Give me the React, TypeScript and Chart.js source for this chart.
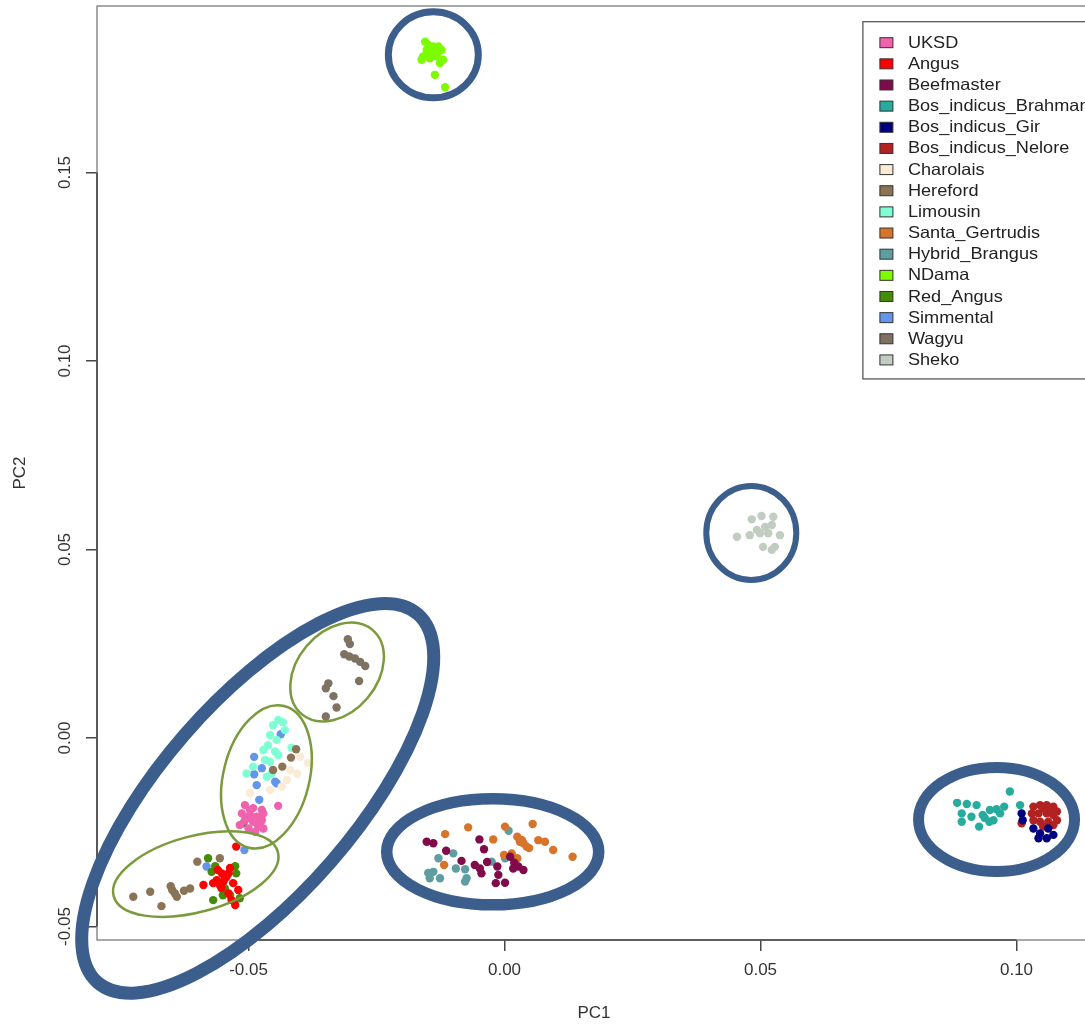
import React, { useEffect, useRef } from "react";
import { Chart, registerables } from "chart.js";

Chart.register(...registerables);

type P = [number, number];

const BREEDS = [
  "UKSD", "Angus", "Beefmaster", "Bos_indicus_Brahman", "Bos_indicus_Gir", "Bos_indicus_Nelore",
  "Charolais", "Hereford", "Limousin", "Santa_Gertrudis", "Hybrid_Brangus", "NDama",
  "Red_Angus", "Simmental", "Wagyu", "Sheko",
];
const COLORS = [
  "#f062ae", "#ff0000", "#800a4a", "#26ab9d", "#000080", "#b22222",
  "#faebd7", "#8b7355", "#7fffd4", "#d8742a", "#5f9ea0", "#7cfc00",
  "#448c0a", "#6495ed", "#7f7262", "#c1cdc1",
];

const X_TICKS = [-0.05, 0, 0.05, 0.1];
const Y_TICKS = [-0.05, 0, 0.05, 0.1, 0.15];

const UKSD: P[] = [[-0.0507,-0.0178],[-0.0491,-0.0186],[-0.0474,-0.0191],[-0.0442,-0.0180],[-0.0513,-0.0200],[-0.0497,-0.0204],[-0.0484,-0.0209],[-0.0471,-0.0200],[-0.0507,-0.0218],[-0.0491,-0.0222],[-0.0474,-0.0218],[-0.0517,-0.0231],[-0.0481,-0.0235],[-0.0471,-0.0240],[-0.0500,-0.0240],[-0.0487,-0.0249],[-0.0497,-0.0191],[-0.0478,-0.0228],[-0.0503,-0.0212]];
const ANGUS: P[] = [[-0.0524,-0.0288],[-0.0552,-0.0359],[-0.0543,-0.0368],[-0.0562,-0.0377],[-0.0549,-0.0381],[-0.0539,-0.0359],[-0.0556,-0.0390],[-0.0588,-0.0390],[-0.0530,-0.0385],[-0.0520,-0.0403],[-0.0539,-0.0412],[-0.0533,-0.0430],[-0.0546,-0.0372],[-0.0569,-0.0385],[-0.0560,-0.0350],[-0.0536,-0.0345],[-0.0526,-0.0443],[-0.0553,-0.0398]];
const BEEFMASTER: P[] = [[-0.0152,-0.0275],[-0.0139,-0.0279],[-0.0114,-0.0299],[-0.0049,-0.0269],[-0.0040,-0.0295],[-0.0084,-0.0326],[-0.0058,-0.0337],[-0.0048,-0.0346],[-0.0045,-0.0359],[-0.0014,-0.0341],[-0.0012,-0.0363],[0.0011,-0.0315],[0.0019,-0.0331],[0.0027,-0.0341],[0.0037,-0.0350],[0.0017,-0.0346],[-0.0017,-0.0385],[0.0001,-0.0384],[-0.0034,-0.0329]];
const BRAHMAN: P[] = [[0.0884,-0.0172],[0.0903,-0.0175],[0.0922,-0.0178],[0.0893,-0.0200],[0.0893,-0.0222],[0.0912,-0.0209],[0.0934,-0.0204],[0.0948,-0.0191],[0.0961,-0.0189],[0.0968,-0.0200],[0.0947,-0.0222],[0.0955,-0.0218],[0.0927,-0.0235],[0.0987,-0.0142],[0.1007,-0.0178],[0.0976,-0.0182],[0.0938,-0.0212]];
const GIR: P[] = [[0.1010,-0.0200],[0.1012,-0.0218],[0.1033,-0.0240],[0.1046,-0.0253],[0.1059,-0.0266],[0.1072,-0.0257],[0.1043,-0.0266],[0.1062,-0.0240]];
const NELORE: P[] = [[0.1033,-0.0182],[0.1046,-0.0178],[0.1059,-0.0178],[0.1072,-0.0182],[0.1079,-0.0195],[0.1030,-0.0200],[0.1043,-0.0200],[0.1059,-0.0200],[0.1072,-0.0204],[0.1079,-0.0218],[0.1033,-0.0218],[0.1046,-0.0222],[0.1062,-0.0222],[0.1072,-0.0231],[0.1052,-0.0235],[0.1010,-0.0226],[0.1052,-0.0186],[0.1065,-0.0191]];
const CHAROLAIS: P[] = [[-0.0405,-0.0095],[-0.0425,-0.0111],[-0.0435,-0.0129],[-0.0458,-0.0138],[-0.0384,-0.0066],[-0.0497,-0.0146],[-0.0399,-0.0050],[-0.0419,-0.0085]];
const HEREFORD: P[] = [[-0.0600,-0.0328],[-0.0556,-0.0319],[-0.0725,-0.0421],[-0.0692,-0.0408],[-0.0670,-0.0446],[-0.0652,-0.0393],[-0.0644,-0.0412],[-0.0640,-0.0421],[-0.0626,-0.0405],[-0.0614,-0.0399],[-0.0649,-0.0403],[-0.0407,-0.0030],[-0.0417,-0.0052],[-0.0434,-0.0076],[-0.0452,-0.0085],[-0.0510,-0.0226]];
const LIMOUSIN: P[] = [[-0.0442,0.0048],[-0.0452,0.0034],[-0.0429,0.0021],[-0.0458,0.0008],[-0.0445,-0.0005],[-0.0416,-0.0026],[-0.0471,-0.0032],[-0.0448,-0.0036],[-0.0442,-0.0045],[-0.0468,-0.0058],[-0.0458,-0.0063],[-0.0491,-0.0076],[-0.0455,-0.0094],[-0.0504,-0.0094],[-0.0464,-0.0103],[-0.0433,0.0042],[-0.0462,-0.0019]];
const SANTA_GERTRUDIS: P[] = [[-0.0116,-0.0255],[-0.0071,-0.0237],[0.0001,-0.0235],[0.0055,-0.0228],[0.0025,-0.0262],[0.0034,-0.0271],[0.0037,-0.0279],[0.0043,-0.0288],[0.0030,-0.0275],[0.0066,-0.0271],[0.0079,-0.0275],[0.0095,-0.0297],[0.0133,-0.0315],[-0.0001,-0.0310],[0.0014,-0.0306],[0.0025,-0.0319],[-0.0118,-0.0337],[-0.0022,-0.0269],[0.0048,-0.0292]];
const HYBRID_BRANGUS: P[] = [[-0.0100,-0.0306],[-0.0129,-0.0319],[0.0008,-0.0246],[-0.0025,-0.0328],[0.0001,-0.0319],[-0.0095,-0.0346],[-0.0077,-0.0348],[-0.0139,-0.0355],[-0.0146,-0.0372],[-0.0126,-0.0372],[-0.0074,-0.0372],[-0.0077,-0.0381],[-0.0149,-0.0358]];
const NDAMA: P[] = [[-0.0155,0.1847],[-0.0149,0.1838],[-0.0139,0.1834],[-0.0129,0.1834],[-0.0123,0.1825],[-0.0159,0.1808],[-0.0146,0.1803],[-0.0132,0.1808],[-0.0120,0.1799],[-0.0126,0.1790],[-0.0146,0.1816],[-0.0136,0.1759],[-0.0116,0.1726],[-0.0162,0.1799],[-0.0152,0.1825],[-0.0139,0.1815],[-0.0130,0.1820]];
const RED_ANGUS: P[] = [[-0.0579,-0.0319],[-0.0565,-0.0340],[-0.0526,-0.0340],[-0.0572,-0.0355],[-0.0524,-0.0359],[-0.0546,-0.0399],[-0.0550,-0.0417],[-0.0569,-0.0430],[-0.0517,-0.0425],[-0.0536,-0.0417]];
const SIMMENTAL: P[] = [[-0.0437,0.0010],[-0.0489,-0.0050],[-0.0474,-0.0080],[-0.0489,-0.0096],[-0.0448,-0.0116],[-0.0445,-0.0120],[-0.0484,-0.0125],[-0.0479,-0.0164],[-0.0508,-0.0297],[-0.0582,-0.0341]];
const WAGYU: P[] = [[-0.0306,0.0262],[-0.0302,0.0249],[-0.0313,0.0222],[-0.0303,0.0216],[-0.0292,0.0211],[-0.0282,0.0202],[-0.0272,0.0191],[-0.0284,0.0151],[-0.0344,0.0145],[-0.0349,0.0132],[-0.0334,0.0111],[-0.0328,0.0081],[-0.0349,0.0057]];
const SHEKO: P[] = [[0.0454,0.0534],[0.0483,0.0580],[0.0502,0.0589],[0.0525,0.0587],[0.0493,0.0552],[0.0509,0.0560],[0.0522,0.0565],[0.0499,0.0543],[0.0515,0.0543],[0.0538,0.0538],[0.0505,0.0507],[0.0528,0.0507],[0.0522,0.0499],[0.0479,0.0538]];

const SERIES: P[][] = [
  UKSD, ANGUS, BEEFMASTER, BRAHMAN, GIR, NELORE, CHAROLAIS, HEREFORD,
  LIMOUSIN, SANTA_GERTRUDIS, HYBRID_BRANGUS, NDAMA, RED_ANGUS, SIMMENTAL, WAGYU, SHEKO,
];

// Hand-drawn annotation ellipses: centre in data units, radii in px
const BLUE = "#3c5e8d";
const GREEN = "#7b9a3c";
const ELLIPSES = [
  { cx: -0.0139, cy: 0.1812, rx: 45, ry: 43, rot: 0, color: BLUE, lw: 7 },
  { cx: 0.0482, cy: 0.0544, rx: 45, ry: 47, rot: 0, color: BLUE, lw: 6 },
  { cx: -0.0023, cy: -0.0302, rx: 106, ry: 53, rot: 0, color: BLUE, lw: 11.5 },
  { cx: 0.0961, cy: -0.0216, rx: 78, ry: 52, rot: 0, color: BLUE, lw: 11 },
  { cx: -0.0482, cy: -0.0160, rx: 244, ry: 97, rot: -49, color: BLUE, lw: 13 },
  { cx: -0.0327, cy: 0.0175, rx: 55, ry: 40, rot: -50, color: GREEN, lw: 2.5 },
  { cx: -0.0465, cy: -0.0103, rx: 73, ry: 43, rot: -76, color: GREEN, lw: 2.5 },
  { cx: -0.0603, cy: -0.0361, rx: 85, ry: 38, rot: -15, color: GREEN, lw: 2.5 },
];

const LEGEND_ANCHOR: P = [0.07, 0.19];
const FONT = "'Liberation Sans', Arial, Helvetica, sans-serif";

const overlay = {
  id: "overlay",
  afterDraw(chart: any) {
    const { ctx, chartArea: a, scales } = chart;
    const xs = scales.x;
    const ys = scales.y;
    ctx.save();

    // plot box
    ctx.strokeStyle = "#8c8c8c";
    ctx.lineWidth = 1.5;
    ctx.strokeRect(a.left, a.top, a.right - a.left, a.bottom - a.top);

    // axis lines between first and last tick
    const xt = xs.ticks;
    const yt = ys.ticks;
    ctx.strokeStyle = "#474747";
    ctx.lineWidth = 1.6;
    ctx.beginPath();
    ctx.moveTo(xs.getPixelForValue(xt[0].value), a.bottom);
    ctx.lineTo(xs.getPixelForValue(xt[xt.length - 1].value), a.bottom);
    ctx.moveTo(a.left, ys.getPixelForValue(yt[0].value));
    ctx.lineTo(a.left, ys.getPixelForValue(yt[yt.length - 1].value));
    ctx.stroke();

    // rotated y tick labels (R style)
    ctx.fillStyle = "#333";
    ctx.font = `17px ${FONT}`;
    ctx.textAlign = "center";
    ctx.textBaseline = "middle";
    for (const t of yt) {
      const py = ys.getPixelForValue(t.value);
      ctx.save();
      ctx.translate(a.left - 32, py);
      ctx.rotate(-Math.PI / 2);
      ctx.fillText(Number(t.value).toFixed(2), 0, 0);
      ctx.restore();
    }

    // legend
    const lx = xs.getPixelForValue(LEGEND_ANCHOR[0]);
    const ly = ys.getPixelForValue(LEGEND_ANCHOR[1]);
    const sx = 1.1;
    ctx.font = `16.5px ${FONT}`;
    const datasets = chart.data.datasets;
    let maxW = 0;
    for (const d of datasets) maxW = Math.max(maxW, ctx.measureText(d.label).width * sx);
    const rowH = 21.15;
    const boxW = 45 + maxW + 12;
    const boxH = 21 + (datasets.length - 1) * rowH + 19;
    ctx.fillStyle = "#ffffff";
    ctx.fillRect(lx, ly, boxW, boxH);
    ctx.strokeStyle = "#5a5a5a";
    ctx.lineWidth = 1.3;
    ctx.strokeRect(lx, ly, boxW, boxH);
    ctx.textAlign = "left";
    ctx.textBaseline = "middle";
    datasets.forEach((d: any, i: number) => {
      const cy = ly + 21 + i * rowH;
      ctx.fillStyle = d.backgroundColor;
      ctx.fillRect(lx + 17, cy - 5, 13, 10);
      ctx.strokeStyle = "#333";
      ctx.lineWidth = 1;
      ctx.strokeRect(lx + 17, cy - 5, 13, 10);
      ctx.save();
      ctx.translate(lx + 45, cy + 0.5);
      ctx.scale(sx, 1);
      ctx.fillStyle = "#222";
      ctx.fillText(d.label, 0, 0);
      ctx.restore();
    });

    // annotation ellipses
    for (const e of ELLIPSES) {
      ctx.beginPath();
      ctx.ellipse(
        xs.getPixelForValue(e.cx),
        ys.getPixelForValue(e.cy),
        e.rx, e.ry, (e.rot * Math.PI) / 180, 0, Math.PI * 2
      );
      ctx.strokeStyle = e.color;
      ctx.lineWidth = e.lw;
      ctx.stroke();
    }
    ctx.restore();
  },
};

export default function App() {
  const ref = useRef<HTMLCanvasElement | null>(null);

  useEffect(() => {
    document.body.style.margin = "0";
    document.body.style.overflow = "hidden";
    const canvas = ref.current;
    if (!canvas) return;
    const chart = new Chart(canvas, {
      type: "scatter",
      data: {
        datasets: BREEDS.map((name, i) => ({
          label: name,
          data: SERIES[i].map(([x, y]) => ({ x, y })),
          backgroundColor: COLORS[i],
          borderColor: COLORS[i],
          pointRadius: 4.2,
          pointBorderWidth: 0,
          pointHoverRadius: 4.2,
        })),
      },
      options: {
        responsive: false,
        animation: false,
        events: [],
        layout: { padding: { left: 0, top: 6, right: 89, bottom: 0 } },
        plugins: {
          legend: { display: false },
          tooltip: { enabled: false },
        },
        scales: {
          x: {
            type: "linear",
            min: -0.07959,
            max: 0.11455,
            afterBuildTicks: (s: any) => {
              s.ticks = X_TICKS.map((v) => ({ value: v }));
            },
            afterFit: (s: any) => {
              s.height = 84;
            },
            ticks: {
              callback: (v: any) => Number(v).toFixed(2),
              color: "#333",
              font: { size: 17, family: FONT },
              padding: 9,
              maxRotation: 0,
              autoSkip: false,
            },
            grid: {
              drawOnChartArea: false,
              drawTicks: true,
              tickLength: 11,
              color: "#474747",
              lineWidth: 1.5,
            },
            border: { display: false },
            title: {
              display: true,
              text: "PC1",
              color: "#333",
              font: { size: 17, family: FONT },
              padding: { top: 0, bottom: 0 },
            },
          },
          y: {
            type: "linear",
            min: -0.05358,
            max: 0.19416,
            afterBuildTicks: (s: any) => {
              s.ticks = Y_TICKS.map((v) => ({ value: v }));
            },
            afterFit: (s: any) => {
              s.width = 97;
            },
            ticks: { display: false },
            grid: {
              drawOnChartArea: false,
              drawTicks: true,
              tickLength: 11,
              color: "#474747",
              lineWidth: 1.5,
            },
            border: { display: false },
            title: {
              display: true,
              text: "PC2",
              color: "#333",
              font: { size: 17, family: FONT },
              padding: { top: 10, bottom: 0 },
            },
          },
        },
      },
      plugins: [overlay],
    });
    return () => chart.destroy();
  }, []);

  return (
    <div
      style={{
        position: "absolute",
        left: 0,
        top: 0,
        width: 1085,
        height: 1024,
        overflow: "hidden",
        background: "#fff",
      }}
    >
      <canvas
        ref={ref}
        width={1180}
        height={1024}
        style={{ display: "block", width: 1180, height: 1024 }}
      />
    </div>
  );
}
